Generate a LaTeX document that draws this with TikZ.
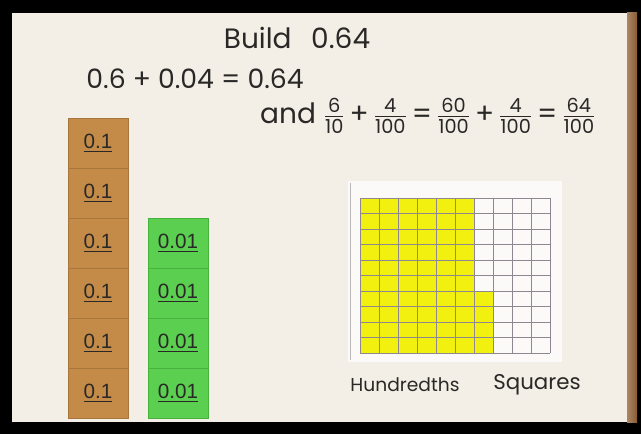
\documentclass[tikz,border=0pt]{standalone}
\usepackage{fontspec}
\usepackage{amsmath}
\setmainfont{Poppins}
\newfontfamily\tilefont{Liberation Sans}
\definecolor{paper}{HTML}{F3EFE7}
\definecolor{ink}{HTML}{2A2826}
\definecolor{tilebrown}{HTML}{C48B48}
\definecolor{tilebrownedge}{HTML}{A8763A}
\definecolor{tilegreen}{HTML}{5BCF50}
\definecolor{tilegreenedge}{HTML}{48B23E}
\definecolor{hilite}{HTML}{F1F00E}
\definecolor{gridline}{HTML}{8C8790}
\definecolor{woodedge}{HTML}{8A5A30}
\newcommand\hf[2]{\ensuremath{\genfrac{}{}{0.8pt}{}{\text{\fontsize{14.5}{15}\selectfont #1}}{\text{\fontsize{14.5}{15}\selectfont #2}}}}
\tikzset{
  hand/.style={text=ink, inner sep=0pt},
  tenthtile/.style={fill=tilebrown, draw=tilebrownedge, line width=0.4pt, minimum width=45pt, minimum height=37.5pt, inner sep=0pt, text=ink, font=\tilefont\fontsize{15.5}{16}\selectfont},
  hundtile/.style={fill=tilegreen, draw=tilegreenedge, line width=0.4pt, minimum width=45pt, minimum height=37.5pt, inner sep=0pt, text=ink, font=\tilefont\fontsize{15.5}{16}\selectfont},
}
\begin{document}
\begin{tikzpicture}[x=0.75pt,y=-0.75pt]
\useasboundingbox (0,0) rectangle (641,434);
% frame
\fill[black] (0,0) rectangle (641,434);
\fill[paper] (12,13) rectangle (629,422);
\shade[left color=woodedge!70!paper, right color=woodedge] (627,13) rectangle (637,422);
% title and equations
\node[hand, font=\fontsize{21}{23}\selectfont] (title) at (297,38) {Build\hspace{0.7em}0.64};
\node[hand, font=\fontsize{20}{22}\selectfont] (eqa) at (195,79) {0.6 + 0.04 = 0.64};
\node[hand, font=\fontsize{21}{23}\selectfont] (eqb) at (428,116) {and \hf{6}{10}\,+\,\hf{4}{100}\,=\,\hf{60}{100}\,+\,\hf{4}{100}\,=\,\hf{64}{100}};
% tenth tiles
\foreach \i/\y in {1/143,2/193,3/243,4/293,5/343,6/393}
  \node[tenthtile] (t\i) at (98,\y) {\underline{0.1}};
% hundredth tiles
\foreach \i/\y in {1/243,2/293,3/343,4/393}
  \node[hundtile] (g\i) at (178,\y) {\underline{0.01}};
% hundredths card
\fill[white!70!paper] (348,181) rectangle (562,362);
\draw[gridline!60, line width=0.5pt] (350,183) -- (350,360);
\fill[hilite] (360,198) rectangle (474,353);
\fill[hilite] (474,291) rectangle (493,353);
\foreach \i in {0,...,10} {
  \draw[gridline, line width=0.45pt] ({360+19*\i},198) -- ({360+19*\i},353);
  \draw[gridline, line width=0.45pt] (360,{198+15.5*\i}) -- (550,{198+15.5*\i});
}
\node[hand, font=\fontsize{14}{16}\selectfont] (lh) at (405,385) {Hundredths};
\node[hand, font=\fontsize{16}{18}\selectfont] (ls) at (537,385) {Squares};
\end{tikzpicture}
\end{document}
